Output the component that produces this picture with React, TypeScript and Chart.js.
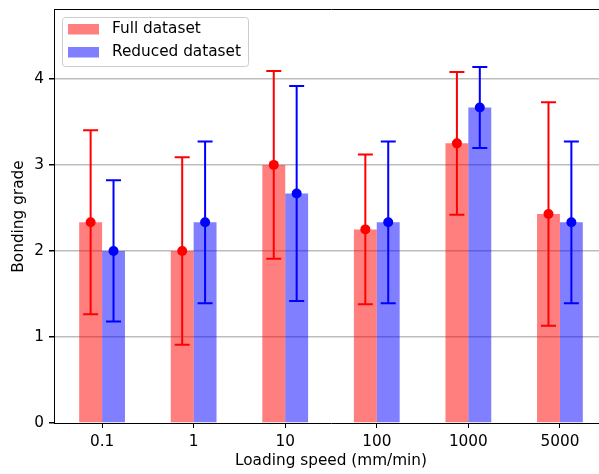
import React, { useEffect, useRef } from 'react';
import { Chart, registerables } from 'chart.js';

Chart.register(...registerables);

const categories = ['0.1', '1', '10', '100', '1000', '5000'];
const fullMean = [2.333, 2.0, 3.0, 2.25, 3.25, 2.429];
const fullSd = [1.07, 1.09, 1.09, 0.87, 0.83, 1.3];
const reducedMean = [2.0, 2.333, 2.667, 2.333, 3.667, 2.333];
const reducedSd = [0.82, 0.94, 1.25, 0.94, 0.47, 0.94];
const seriesNames = ['Full dataset', 'Reduced dataset'];
const yMax = 4.8;
const xStart = -0.525;
const xRange = 6.05;

const barColors = ['rgba(255,0,0,0.5)', 'rgba(0,0,255,0.5)'];
const lineColors = ['#ff0000', '#0000ff'];
const means = [fullMean, reducedMean];
const sds = [fullSd, reducedSd];

const FONT = "'DejaVu Sans', sans-serif";
const FS = 15.3;

const overlayPlugin = {
  id: 'overlay',
  afterDraw(chart: any) {
    const ctx = chart.ctx;
    const yScale = chart.scales.y;
    const area = chart.chartArea;
    ctx.save();
    // top spine
    ctx.strokeStyle = '#000';
    ctx.lineWidth = 1;
    ctx.beginPath();
    ctx.moveTo(area.left, area.top - 0.5);
    ctx.lineTo(area.right + 1, area.top - 0.5);
    ctx.stroke();

    // error bars and points
    for (let d = 0; d < 2; d++) {
      const meta = chart.getDatasetMeta(d);
      ctx.strokeStyle = lineColors[d];
      ctx.fillStyle = lineColors[d];
      ctx.lineWidth = 2;
      meta.data.forEach((bar: any, i: number) => {
        const x = bar.x;
        const m = means[d][i];
        const s = sds[d][i];
        const yLo = yScale.getPixelForValue(m - s);
        const yHi = yScale.getPixelForValue(m + s);
        const yM = yScale.getPixelForValue(m);
        ctx.beginPath();
        ctx.moveTo(x, yLo);
        ctx.lineTo(x, yHi);
        ctx.moveTo(x - 7.5, yLo);
        ctx.lineTo(x + 7.5, yLo);
        ctx.moveTo(x - 7.5, yHi);
        ctx.lineTo(x + 7.5, yHi);
        ctx.stroke();
        ctx.beginPath();
        ctx.arc(x, yM, 5, 0, Math.PI * 2);
        ctx.fill();
      });
    }

    // legend
    const lx = 62, ly = 17.5, lw = 186, lh = 49;
    ctx.beginPath();
    ctx.roundRect(lx + 0.5, ly, lw, lh, 3);
    ctx.fillStyle = 'rgba(255,255,255,0.8)';
    ctx.fill();
    ctx.strokeStyle = '#cccccc';
    ctx.lineWidth = 1;
    ctx.stroke();
    ctx.font = `${FS}px ${FONT}`;
    ctx.textBaseline = 'middle';
    ctx.textAlign = 'left';
    for (let d = 0; d < 2; d++) {
      const rowY = 24 + d * 23;
      ctx.fillStyle = barColors[d];
      ctx.fillRect(68, rowY, 31, 10.5);
      ctx.fillStyle = '#000';
      ctx.fillText(seriesNames[d], 112, rowY + 5.5);
    }
    ctx.restore();
  },
};

export default function App() {
  const canvasRef = useRef<HTMLCanvasElement | null>(null);

  useEffect(() => {
    if (!canvasRef.current) return;
    Chart.defaults.font.family = FONT;
    Chart.defaults.font.size = FS;
    Chart.defaults.color = '#000';
    const chart = new Chart(canvasRef.current, {
      type: 'bar',
      data: {
        labels: categories,
        datasets: [
          {
            label: seriesNames[0],
            data: fullMean,
            backgroundColor: barColors[0],
            categoryPercentage: 0.5,
            barPercentage: 1,
          },
          {
            label: seriesNames[1],
            data: reducedMean,
            backgroundColor: barColors[1],
            categoryPercentage: 0.5,
            barPercentage: 1,
          },
        ],
      },
      options: {
        animation: false,
        responsive: false,
        devicePixelRatio: 1,
        layout: { padding: { top: 10, right: 12, left: 0, bottom: 0 } },
        plugins: {
          legend: { display: false },
          tooltip: { enabled: false },
        },
        scales: {
          x: {
            type: 'category',
            offset: true,
            afterBuildTicks: (scale: any) => {
              scale._startValue = xStart;
              scale._valueRange = xRange;
            },
            afterFit: (scale: any) => {
              scale.height = 51;
              scale.paddingLeft = 0;
              scale.paddingRight = 0;
            },
            grid: {
              display: true,
              drawOnChartArea: false,
              offset: false,
              tickLength: 5,
              tickColor: '#000',
              color: '#000',
            },
            border: { display: true, color: '#000', width: 1 },
            ticks: { padding: 5, color: '#000', font: { size: FS, family: FONT } },
            title: {
              display: true,
              text: 'Loading speed (mm/min)',
              color: '#000',
              font: { size: FS, family: FONT },
              padding: { top: 0, bottom: 4 },
            },
          },
          y: {
            type: 'linear',
            min: 0,
            max: yMax,
            z: 1,
            afterFit: (scale: any) => {
              scale.width = 54;
              scale.paddingTop = 0;
              scale.paddingBottom = 0;
            },
            ticks: {
              stepSize: 1,
              includeBounds: false,
              padding: 5,
              color: '#000',
              font: { size: FS, family: FONT },
            },
            grid: {
              display: true,
              drawOnChartArea: true,
              tickLength: 5,
              tickColor: '#000',
              color: (c: any) => (c.tick && c.tick.value === 0 ? 'rgba(0,0,0,0)' : '#bdbdbd'),
              lineWidth: 1.5,
            },
            border: { display: true, color: '#000', width: 1 },
            title: {
              display: true,
              text: 'Bonding grade',
              color: '#000',
              font: { size: FS, family: FONT },
              padding: { top: 10, bottom: 0 },
            },
          },
        },
      },
      plugins: [overlayPlugin],
    } as any);
    return () => chart.destroy();
  }, []);

  return (
    <div
      style={{
        position: 'fixed',
        left: 0,
        top: 0,
        width: 599,
        height: 474,
        overflow: 'hidden',
        background: '#fff',
      }}
    >
      <canvas ref={canvasRef} width={620} height={474} style={{ width: 620, height: 474, display: 'block' }} />
    </div>
  );
}
